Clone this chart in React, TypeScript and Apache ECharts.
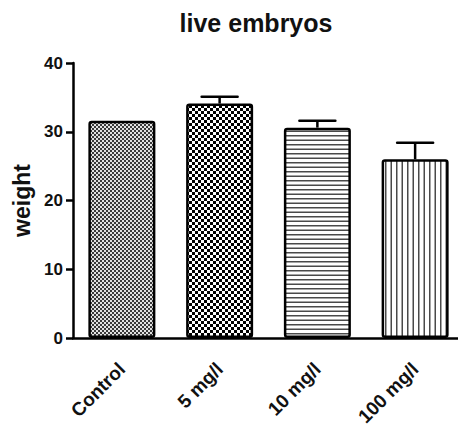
import React, { useEffect, useRef } from "react";
import * as echarts from "echarts";

const categories = ["Control", "5 mg/l", "10 mg/l", "100 mg/l"];
const means = [31.6, 34.1, 30.6, 26.0];
const errors = [0, 1.0, 1.0, 2.4];
const yMin = 0;
const yMax = 40;
const yStep = 10;
const titleText = "live embryos";
const yName = "weight";

const FONT = "'Liberation Sans', Arial, sans-serif";

function makeTile(kind: number) {
  const c = document.createElement("canvas");
  let w = 4, h = 4;
  if (kind === 0) { w = 4; h = 4; }
  if (kind === 1) { w = 6; h = 6; }
  if (kind === 2) { w = 8; h = 9; }
  if (kind === 3) { w = 11; h = 8; }
  c.width = w; c.height = h;
  const ctx = c.getContext("2d")!;
  ctx.fillStyle = "#ffffff";
  ctx.fillRect(0, 0, w, h);
  if (kind === 0) {
    ctx.fillStyle = "#e2e2e2";
    ctx.fillRect(0, 0, w, h);
    ctx.fillStyle = "#3a3a3a";
    ctx.fillRect(0, 0, 2, 2);
    ctx.fillRect(2, 2, 2, 2);
  } else if (kind === 1) {
    ctx.fillStyle = "#000000";
    ctx.fillRect(0, 0, 3, 3);
    ctx.fillRect(3, 3, 3, 3);
  } else if (kind === 2) {
    ctx.fillStyle = "#4a4a4a";
    ctx.fillRect(0, 0, w, 1.5);
    ctx.fillRect(0, 4.5, w, 1.5);
  } else {
    ctx.fillStyle = "#4a4a4a";
    ctx.fillRect(0, 0, 1.5, h);
    ctx.fillRect(5.5, 0, 1.5, h);
  }
  return { image: c as any, repeat: "repeat", imageWidth: w, imageHeight: h };
}

export default function App() {
  const ref = useRef<HTMLDivElement>(null);
  useEffect(() => {
    if (!ref.current) return;
    const chart = echarts.init(ref.current, null, { renderer: "svg" });
    const patterns = [0, 1, 2, 3].map((k) => makeTile(k));
    const option: any = {
      animation: false,
      backgroundColor: "#ffffff",
      title: {
        text: titleText,
        left: 251,
        top: 5,
        textAlign: "center",
        textStyle: { fontFamily: FONT, fontSize: 25, fontWeight: "bold", color: "#111" },
      },
      grid: { left: 73, top: 63, width: 391, bottom: 88, outerBoundsMode: "none", containLabel: false },
      xAxis: {
        type: "category",
        data: categories,
        axisLine: { lineStyle: { color: "#000", width: 2.5 } },
        axisTick: { alignWithLabel: true, length: 7, lineStyle: { color: "#000", width: 2.5 } },
        axisLabel: {
          rotate: 45,
          margin: 28,
          fontFamily: FONT,
          fontSize: 19,
          fontWeight: "bold",
          color: "#111",
          interval: 0,
        },
      },
      yAxis: {
        type: "value",
        min: yMin,
        max: yMax,
        interval: yStep,
        name: yName,
        nameLocation: "middle",
        nameGap: 40,
        nameTextStyle: { fontFamily: FONT, fontSize: 23, fontWeight: "bold", color: "#111" },
        splitLine: { show: false },
        axisLine: { show: true, lineStyle: { color: "#000", width: 2.5 } },
        axisTick: { show: true, length: 7, lineStyle: { color: "#000", width: 2.5 } },
        axisLabel: { margin: 10, fontFamily: FONT, fontSize: 17, fontWeight: "bold", color: "#111" },
      },
      series: [
        {
          type: "bar",
          barWidth: 67,
          data: means.map((v, i) => ({
            value: v,
            itemStyle: { color: patterns[i] },
          })),
          itemStyle: { borderColor: "#000", borderWidth: 2.5, borderRadius: 2 },
        },
        {
          type: "custom",
          data: categories.map((c, i) => [i, means[i], means[i] + errors[i]]),
          renderItem: (params: any, api: any) => {
            const x = api.value(0);
            const m = api.value(1);
            const hi = api.value(2);
            if (!(hi > m)) return { type: "group", children: [] };
            const p0 = api.coord([x, m]);
            const p1 = api.coord([x, hi]);
            const half = 18;
            return {
              type: "group",
              children: [
                {
                  type: "line",
                  shape: { x1: p0[0], y1: p0[1], x2: p1[0], y2: p1[1] },
                  style: { stroke: "#000", lineWidth: 2.5 },
                },
                {
                  type: "line",
                  shape: { x1: p1[0] - half, y1: p1[1], x2: p1[0] + half, y2: p1[1] },
                  style: { stroke: "#000", lineWidth: 2.5, lineCap: "round" },
                },
              ],
            };
          },
          z: 5,
        },
      ],
    };
    chart.setOption(option);
    return () => chart.dispose();
  }, []);
  return (
    <div
      ref={ref}
      style={{ position: "fixed", left: 0, top: 0, width: 458, height: 426, background: "#fff" }}
    />
  );
}
